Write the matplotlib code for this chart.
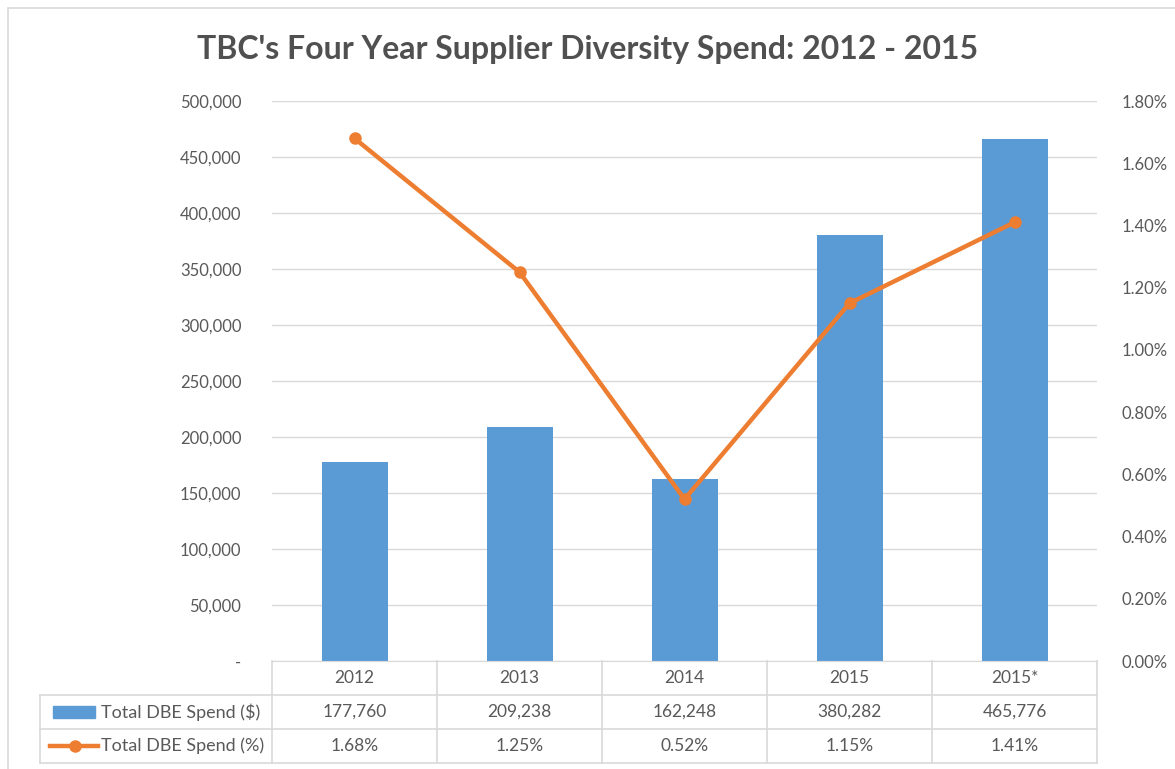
import numpy as np
import matplotlib.pyplot as plt
from matplotlib.patches import Rectangle
from matplotlib.lines import Line2D
from matplotlib.ticker import FuncFormatter

plt.rcParams['font.family'] = ['Lato', 'DejaVu Sans']

years = ['2012', '2013', '2014', '2015', '2015*']
spend = [177760, 209238, 162248, 380282, 465776]
pct = [1.68, 1.25, 0.52, 1.15, 1.41]
row_labels = ['Total DBE Spend ($)', 'Total DBE Spend (%)']

blue = '#5B9BD5'
orange = '#ED7D31'
txt = '#595959'
grid = '#D9D9D9'

W, H = 1175, 769
fig = plt.figure(figsize=(W / 100, H / 100), dpi=100)
ax = fig.add_axes([272 / W, 1 - 661 / H, 825 / W, 560 / H])

x = np.arange(len(years))
ax.bar(x, spend, width=0.4, color=blue, zorder=2)
ax.set_xlim(-0.5, len(years) - 0.5)
ax.set_ylim(0, 500000)
ax.set_yticks(np.arange(0, 500001, 50000))
ax.yaxis.set_major_formatter(FuncFormatter(lambda v, p: '-' if v == 0 else f'{int(v):,}'))
ax.tick_params(axis='y', length=0, labelsize=12, colors=txt, pad=22)
ax.set_xticks([])
ax.grid(axis='y', color=grid, linewidth=1, zorder=0)
for s in ['top', 'right', 'left']:
    ax.spines[s].set_visible(False)
ax.spines['bottom'].set_color(grid)

ax2 = ax.twinx()
ax2.plot(x, pct, color=orange, linewidth=3.2, marker='o', markersize=8, zorder=3)
ax2.set_ylim(0, 1.8)
ax2.set_yticks(np.arange(0, 1.81, 0.2))
ax2.yaxis.set_major_formatter(FuncFormatter(lambda v, p: f'{v:.2f}%'))
ax2.tick_params(axis='y', length=0, labelsize=12, colors=txt, pad=18)
for s in ['top', 'right', 'left', 'bottom']:
    ax2.spines[s].set_visible(False)

# data table below the plot (axes coords)
rh = 34 / 560
xl = (40 - 272) / 825
kw = dict(transform=ax.transAxes, clip_on=False, color=grid, linewidth=1.2)
edges = np.linspace(0, 1, len(years) + 1)
for e in edges:
    ax.add_line(Line2D([e, e], [0, -3 * rh], **kw))
ax.add_line(Line2D([xl, xl], [-rh, -3 * rh], **kw))
for k in (1, 2, 3):
    ax.add_line(Line2D([xl, 1], [-k * rh, -k * rh], **kw))

centers = (edges[:-1] + edges[1:]) / 2
for i, c in enumerate(centers):
    ax.text(c, -0.5 * rh, years[i], transform=ax.transAxes, ha='center', va='center',
            fontsize=12.5, color=txt)
    ax.text(c, -1.5 * rh, f'{spend[i]:,}', transform=ax.transAxes, ha='center', va='center',
            fontsize=12.5, color=txt)
    ax.text(c, -2.5 * rh, f'{pct[i]:.2f}%', transform=ax.transAxes, ha='center', va='center',
            fontsize=12.5, color=txt)

# legend keys inside table
ax.add_patch(Rectangle(((53 - 272) / 825, -1.5 * rh - 6 / 560), 42 / 825, 12 / 560,
                       transform=ax.transAxes, clip_on=False, color=blue))
ax.add_line(Line2D([(50 - 272) / 825, (98 - 272) / 825], [-2.5 * rh, -2.5 * rh],
                   transform=ax.transAxes, clip_on=False, color=orange, linewidth=3.2))
ax.add_line(Line2D([(75 - 272) / 825], [-2.5 * rh], transform=ax.transAxes, clip_on=False,
                   color=orange, marker='o', markersize=8))
for k, lab in enumerate(row_labels):
    ax.text((101 - 272) / 825, -(1.5 + k) * rh, lab, transform=ax.transAxes, ha='left',
            va='center', fontsize=13, color=txt)

fig.text(0.5, 1 - 49 / H, "TBC's Four Year Supplier Diversity Spend: 2012 - 2015",
         ha='center', va='center', fontsize=23, fontweight='bold', color='#505050')

fig.patches.append(Rectangle((8 / W, -0.01), 1.1, 1 - 8 / H + 0.01, transform=fig.transFigure,
                             fill=False, edgecolor=grid, linewidth=1.2))

fig.savefig('out.png', dpi=100)
